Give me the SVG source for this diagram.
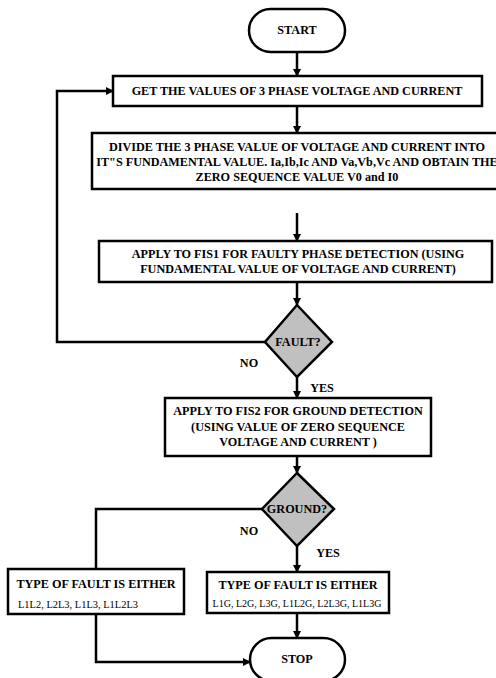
<svg xmlns="http://www.w3.org/2000/svg" width="496" height="678" viewBox="0 0 496 678">
<style>
.box{fill:#fff;stroke:#000;stroke-width:2.5}
.dia{fill:#c0c0c0;stroke:#000;stroke-width:2.5}
.ln{fill:none;stroke:#000;stroke-width:2.5}
text{font-weight:bold;font-size:12.2px;fill:#000;text-anchor:middle;dominant-baseline:central}
.sm{font-weight:normal;font-size:10.5px}
</style>
<defs>
<marker id="ah" markerWidth="8" markerHeight="8" refX="7" refY="4" orient="auto" markerUnits="userSpaceOnUse">
<path d="M0,0 L8,4 L0,8 Z" fill="#000"/>
</marker>
</defs>
<rect width="496" height="678" fill="#fff"/>
<g font-family="'Liberation Serif', 'Times New Roman', serif">
<g id="connectors">
<line class="ln" x1="297" y1="52" x2="297" y2="76" marker-end="url(#ah)"/>
<line class="ln" x1="297" y1="106" x2="297" y2="133" marker-end="url(#ah)"/>
<line class="ln" x1="297" y1="213" x2="297" y2="241" marker-end="url(#ah)"/>
<line class="ln" x1="297" y1="282" x2="297" y2="305" marker-end="url(#ah)"/>
<polyline class="ln" points="265,342 57,342 57,91 113,91" marker-end="url(#ah)"/>
<line class="ln" x1="297" y1="377" x2="297" y2="398" marker-end="url(#ah)"/>
<line class="ln" x1="297" y1="456" x2="297" y2="473" marker-end="url(#ah)"/>
<polyline class="ln" points="262,509 96,509 96,569"/>
<line class="ln" x1="297" y1="546" x2="297" y2="572" marker-end="url(#ah)"/>
<line class="ln" x1="297" y1="613" x2="297" y2="638" marker-end="url(#ah)"/>
<polyline class="ln" points="96,614 96,662 250,662" marker-end="url(#ah)"/>
<text x="249" y="363">NO</text>
<text x="322" y="388">YES</text>
<text x="249" y="531">NO</text>
<text x="328" y="553">YES</text>
</g>
<g id="start">
<rect class="box" x="249" y="9" width="96" height="43" rx="21.5"/>
<text x="297" y="30">START</text>
</g>
<g id="get">
<rect class="box" x="113" y="76" width="369" height="30"/>
<text x="297" y="91">GET THE VALUES OF 3 PHASE VOLTAGE AND CURRENT</text>
</g>
<g id="divide">
<rect class="box" x="92" y="133" width="420" height="56"/>
<text x="297" y="147">DIVIDE THE 3 PHASE VALUE OF VOLTAGE AND CURRENT INTO</text>
<text x="297" y="162">IT"S FUNDAMENTAL VALUE. Ia,Ib,Ic AND Va,Vb,Vc AND OBTAIN THE</text>
<text x="297" y="177">ZERO SEQUENCE VALUE V0 and I0</text>
</g>
<g id="fis1">
<rect class="box" x="99" y="241" width="393" height="41"/>
<text x="298" y="254">APPLY TO FIS1 FOR FAULTY PHASE DETECTION (USING</text>
<text x="298" y="269">FUNDAMENTAL VALUE OF VOLTAGE AND CURRENT)</text>
</g>
<g id="fault">
<polygon class="dia" points="297,305 332,342 297,377 265,342"/>
<text x="298" y="342">FAULT?</text>
</g>
<g id="fis2">
<rect class="box" x="165" y="398" width="266" height="58"/>
<text x="298" y="411">APPLY TO FIS2 FOR GROUND DETECTION</text>
<text x="298" y="427">(USING VALUE OF ZERO SEQUENCE</text>
<text x="298" y="442">VOLTAGE AND CURRENT )</text>
</g>
<g id="ground">
<polygon class="dia" points="297,473 334,509 297,546 262,509"/>
<text x="297" y="509">GROUND?</text>
</g>
<g id="nobox">
<rect class="box" x="8" y="569" width="176" height="45"/>
<text x="96" y="584">TYPE OF FAULT IS EITHER</text>
<text class="sm" x="78" y="604" textLength="120" lengthAdjust="spacingAndGlyphs">L1L2, L2L3, L1L3, L1L2L3</text>
</g>
<g id="yesbox">
<rect class="box" x="207" y="572" width="182" height="41"/>
<text x="298" y="585">TYPE OF FAULT IS EITHER</text>
<text class="sm" x="297" y="603" textLength="169" lengthAdjust="spacingAndGlyphs">L1G, L2G, L3G, L1L2G, L2L3G, L1L3G</text>
</g>
<g id="stop">
<rect class="box" x="250" y="638" width="95" height="43" rx="21.5"/>
<text x="297" y="659">STOP</text>
</g>
</g>
</svg>
